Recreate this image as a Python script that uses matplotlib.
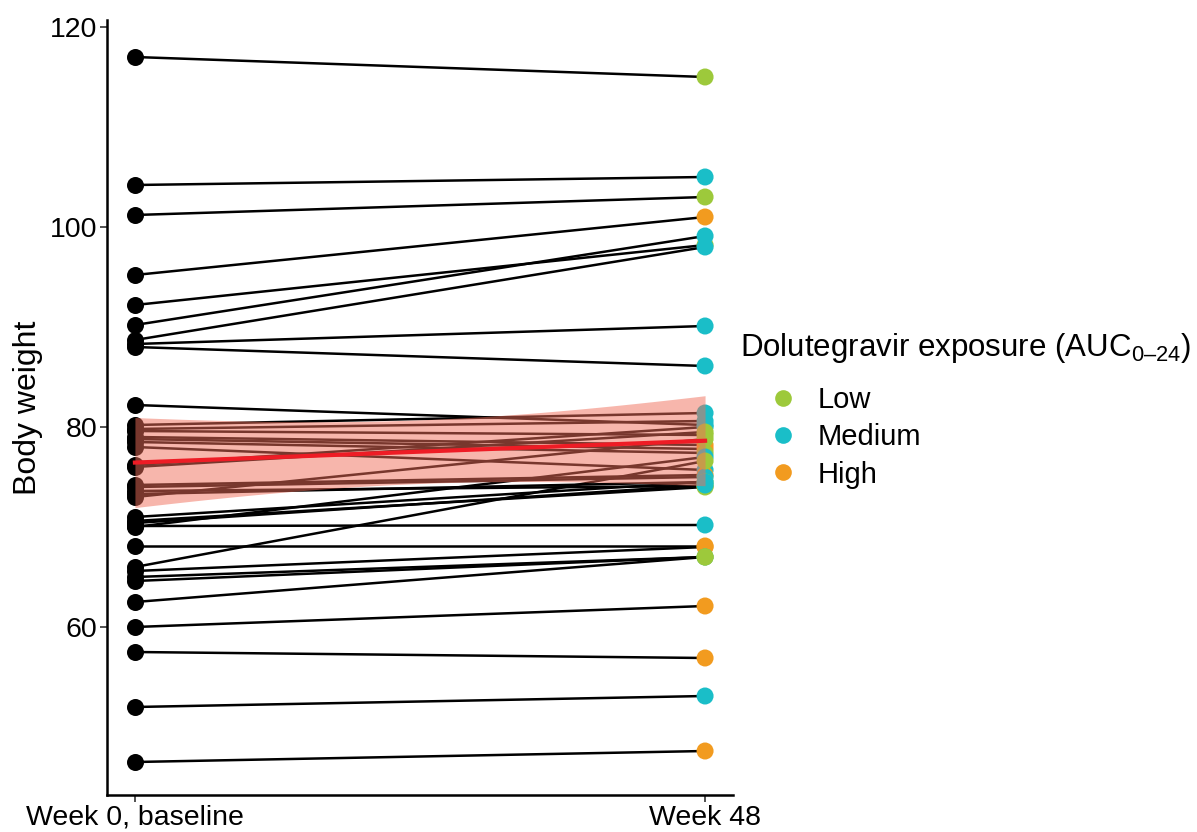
import numpy as np
import matplotlib
matplotlib.use("Agg")
import matplotlib.pyplot as plt
from matplotlib.lines import Line2D

plt.rcParams['font.family'] = ['Liberation Sans', 'DejaVu Sans']
plt.rcParams['mathtext.fontset'] = 'custom'
plt.rcParams['mathtext.rm'] = 'Liberation Sans'

# body weight per participant (some dots overlap)
week0 = [117.0, 104.2, 101.2, 95.2, 92.2, 90.2, 88.7, 88.3, 88.0,
         82.2, 80.2, 79.8, 79.6, 79.0, 78.8, 78.5, 78.0, 76.2, 76.0,
         74.2, 74.0, 73.6, 73.3, 73.0, 71.0, 70.6, 70.4, 70.1, 70.0,
         68.1, 66.0, 65.6, 65.0, 64.6, 62.5, 60.0, 57.5, 52.0, 46.5]
week48 = [115.0, 105.0, 103.0, 101.0, 98.2, 99.1, 98.0, 90.1, 86.1,
          80.2, 81.4, 80.6, 79.2, 78.2, 77.8, 77.4, 75.7, 80.0, 79.5,
          75.2, 75.0, 74.1, 74.5, 78.8, 74.5, 74.0, 74.2, 70.2, 77.0,
          68.1, 76.6, 68.0, 67.0, 67.0, 67.0, 62.1, 56.9, 53.1, 47.6]
exposure = ['Low', 'Medium', 'Low', 'High', 'Low', 'Medium', 'Medium', 'Medium', 'Medium',
            'Medium', 'Medium', 'Medium', 'Low', 'High', 'High', 'Low', 'Medium', 'Medium', 'Low',
            'High', 'Medium', 'Low', 'Low', 'Low', 'Medium', 'Low', 'Medium', 'Medium', 'Medium',
            'High', 'Low', 'High', 'Medium', 'Low', 'Low', 'High', 'High', 'Medium', 'High']

levels = ['Low', 'Medium', 'High']
level_colors = {'Low': '#9DC93B', 'Medium': '#1ABEC8', 'High': '#F29B1F'}
tick_labels = ['Week 0, baseline', 'Week 48']

w0 = np.array(week0)
w48 = np.array(week48)
n = len(w0)

fig = plt.figure(figsize=(11.97, 8.32), dpi=100)
ax = fig.add_axes([107 / 1197, 1 - 795 / 832, (733 - 107) / 1197, (795 - 20) / 832])

for a, b in zip(w0, w48):
  ax.plot([0, 1], [a, b], color='black', lw=1.8, zorder=2)
ax.scatter(np.zeros(n), w0, s=150, color='black', zorder=3, linewidths=0)
ax.scatter(np.ones(n), w48, s=150, color=[level_colors[e] for e in exposure],
           zorder=3, linewidths=0)

# linear smooth over all points with 95% band, like geom_smooth(method = "lm")
x_all = np.r_[np.zeros(n), np.ones(n)]
y_all = np.r_[w0, w48]
slope, intercept = np.polyfit(x_all, y_all, 1)
resid = y_all - (intercept + slope * x_all)
s = np.sqrt(np.sum(resid ** 2) / (len(y_all) - 2))
xs = np.linspace(0, 1, 100)
fit = intercept + slope * xs
se = s * np.sqrt(1 / len(y_all) + (xs - x_all.mean()) ** 2 / np.sum((x_all - x_all.mean()) ** 2))
t_crit = 1.993
ax.fill_between(xs, fit - t_crit * se, fit + t_crit * se, color='#F06E5A', alpha=0.5,
                linewidth=0, zorder=4)
ax.plot(xs, fit, color='#EE1C25', lw=3, zorder=5)

ax.set_xlim(-0.049, 1.049)
ax.set_ylim(43.2, 120.7)
ax.set_xticks([0, 1])
ax.set_xticklabels(tick_labels)
ax.set_yticks([60, 80, 100, 120])
ax.tick_params(axis='both', labelsize=20.5, length=5, width=1.2, color='#333333', pad=2)
ax.set_ylabel('Body weight', fontsize=23, labelpad=5)
for side in ['top', 'right']:
  ax.spines[side].set_visible(False)
for side in ['left', 'bottom']:
  ax.spines[side].set_linewidth(1.8)

fig.text(740 / 1197, 1 - 348 / 832, 'Dolutegravir exposure $(\\mathrm{AUC}_{0\u201324})$',
         fontsize=22.5, va='center', ha='left')
handles = [Line2D([], [], marker='o', ls='', markersize=12, markeredgewidth=0,
                  color=level_colors[l], label=l) for l in levels]
fig.legend(handles=handles, loc='upper left', bbox_to_anchor=(768 / 1197, 1 - 386 / 832),
           fontsize=21, frameon=False, handletextpad=0.7, labelspacing=0.32,
           borderpad=0, borderaxespad=0, handlelength=1.0)

fig.savefig('out.png', dpi=100)
